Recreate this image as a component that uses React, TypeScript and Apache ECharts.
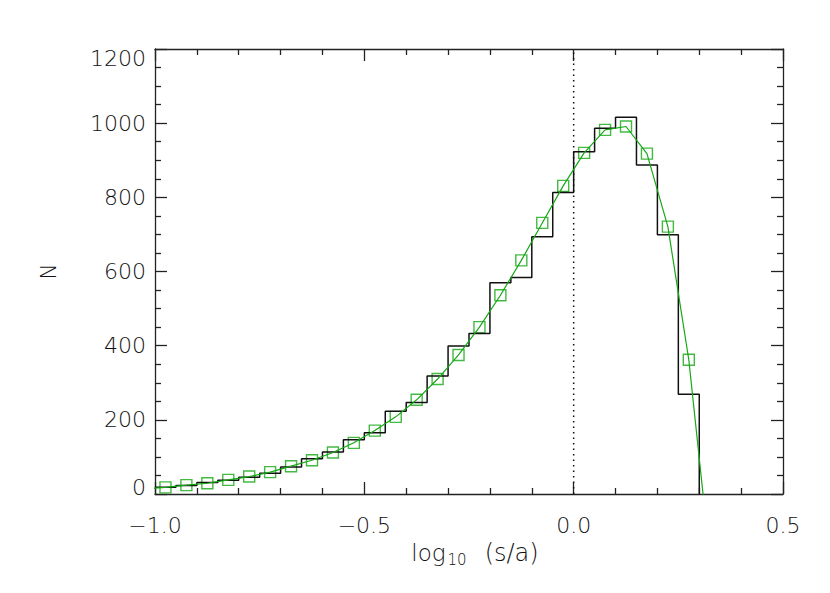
import React, { useEffect, useRef } from "react";
import * as echarts from "echarts";

// Histogram: bins of width 0.05 starting at -1.0
const binStart = -1.0;
const binWidth = 0.05;
const histCounts = [
  18, 23, 31, 37, 45, 56, 73, 95, 113, 146, 165, 223, 247, 318, 399, 433, 570,
  584, 694, 813, 923, 986, 1016, 887, 699, 269,
];

// Model (green squares) at bin centres
const modelX = [
  -0.975, -0.925, -0.875, -0.825, -0.775, -0.725, -0.675, -0.625, -0.575,
  -0.525, -0.475, -0.425, -0.375, -0.325, -0.275, -0.225, -0.175, -0.125,
  -0.075, -0.025, 0.025, 0.075, 0.125, 0.175, 0.225, 0.275,
];
const modelY = [
  18, 24, 29, 38, 47, 59, 75, 91, 112, 138, 171, 208, 254, 310, 375, 450, 536,
  630, 731, 831, 920, 982, 991, 918, 721, 362,
];
// Model curve continues beyond the plotted squares (clipped by the frame)
const tailX = [-1.025, 0.325];
const tailY = [14, -170];

const xTicks = [-1.0, -0.5, 0.0, 0.5];
const yTicks = [0, 200, 400, 600, 800, 1000, 1200];

const FONT = '"DejaVu Sans", sans-serif';
const INK = "#222";
const TEXT = "#111";
const GREEN = "#14a814";
const WEIGHT = 300;

export default function App() {
  const ref = useRef<HTMLDivElement>(null);
  useEffect(() => {
    if (!ref.current) return;
    const chart = echarts.init(ref.current, null, { renderer: "svg" });

    const stepData: number[][] = histCounts.map((v, i) => [
      binStart + i * binWidth,
      v,
    ]);
    const lastEdge = binStart + histCounts.length * binWidth;
    stepData.push([lastEdge, histCounts[histCounts.length - 1]]);
    stepData.push([lastEdge, 0]);

    const squares = modelX.map((x, i) => [x, modelY[i]]);
    const fitLine = [[tailX[0], tailY[0]], ...squares, [tailX[1], tailY[1]]];

    const xMin = xTicks[0];
    const xMax = xTicks[xTicks.length - 1];
    const yMin = yTicks[0];
    const yMax = yTicks[yTicks.length - 1];

    const tickStyle = { color: INK, width: 1.3 };
    const baseAxis = {
      axisLine: { show: true, onZero: false, lineStyle: { color: INK, width: 1.3 } },
      axisTick: { show: true, inside: true, length: 12, lineStyle: tickStyle },
      minorTick: { show: true, length: 6, lineStyle: tickStyle },
      splitLine: { show: false },
      minorSplitLine: { show: false },
    };
    const txt = { fontSize: 22, fontFamily: FONT, color: TEXT, fontWeight: WEIGHT };

    chart.setOption({
      animation: false,
      backgroundColor: "#fff",
      grid: { left: 155, right: 47, top: 49, bottom: 99, containLabel: false },
      xAxis: [
        {
          ...baseAxis,
          type: "value",
          min: xMin,
          max: xMax,
          interval: 0.5,
          minorTick: { ...baseAxis.minorTick, splitNumber: 5 },
          position: "bottom",
          axisLabel: {
            ...txt,
            margin: 20,
            formatter: (v: number) =>
              (v < 0 ? "\u2212" : "") + Math.abs(v).toFixed(1),
          },
          name: "log{sub|10}{main|(s/a)}",
          nameLocation: "middle",
          nameGap: 45,
          nameTextStyle: {
            ...txt,
            fontSize: 23,
            padding: [0, 0, 0, 12],
            rich: {
              sub: {
                ...txt,
                fontSize: 15,
                padding: [13, 18, 0, 2],
              },
              main: { ...txt, fontSize: 24 },
            },
          },
        },
        {
          ...baseAxis,
          type: "value",
          min: xMin,
          max: xMax,
          interval: 0.5,
          minorTick: { ...baseAxis.minorTick, splitNumber: 5 },
          position: "top",
          axisLabel: { show: false },
        },
      ],
      yAxis: [
        {
          ...baseAxis,
          type: "value",
          min: yMin,
          max: yMax,
          interval: 200,
          minorTick: { ...baseAxis.minorTick, splitNumber: 4 },
          position: "left",
          axisLabel: {
            ...txt,
            margin: 9,
            formatter: (v: number) =>
              v === yMin ? `{lo|${v}}` : v === yMax ? `{hi|${v}}` : `${v}`,
            rich: {
              lo: { ...txt, padding: [0, 0, 14, 0] },
              hi: { ...txt, padding: [18, 0, 0, 0] },
            },
          },
          name: "N",
          nameLocation: "middle",
          nameRotate: 90,
          nameGap: 96,
          nameTextStyle: { ...txt },
        },
        {
          ...baseAxis,
          type: "value",
          min: yMin,
          max: yMax,
          interval: 200,
          minorTick: { ...baseAxis.minorTick, splitNumber: 4 },
          position: "right",
          axisLabel: { show: false },
        },
      ],
      series: [
        {
          type: "line",
          name: "zero",
          data: [
            [0, yMin],
            [0, yMax],
          ],
          showSymbol: false,
          silent: true,
          lineStyle: { color: "#111", width: 1.5, type: [1.5, 4] },
        },
        {
          type: "line",
          name: "histogram",
          step: "end",
          data: stepData,
          showSymbol: false,
          lineStyle: { color: "#111", width: 1.5 },
        },
        {
          type: "line",
          name: "fit",
          data: fitLine,
          showSymbol: false,
          clip: true,
          lineStyle: { color: GREEN, width: 1.2 },
        },
        {
          type: "scatter",
          name: "model",
          data: squares,
          symbol: "rect",
          symbolSize: 11,
          itemStyle: {
            color: "rgba(0,0,0,0)",
            borderColor: GREEN,
            borderWidth: 1.4,
          },
        },
      ],
    });

    return () => chart.dispose();
  }, []);

  return (
    <div
      ref={ref}
      style={{ position: "fixed", left: 0, top: 0, width: 830, height: 593 }}
    />
  );
}
